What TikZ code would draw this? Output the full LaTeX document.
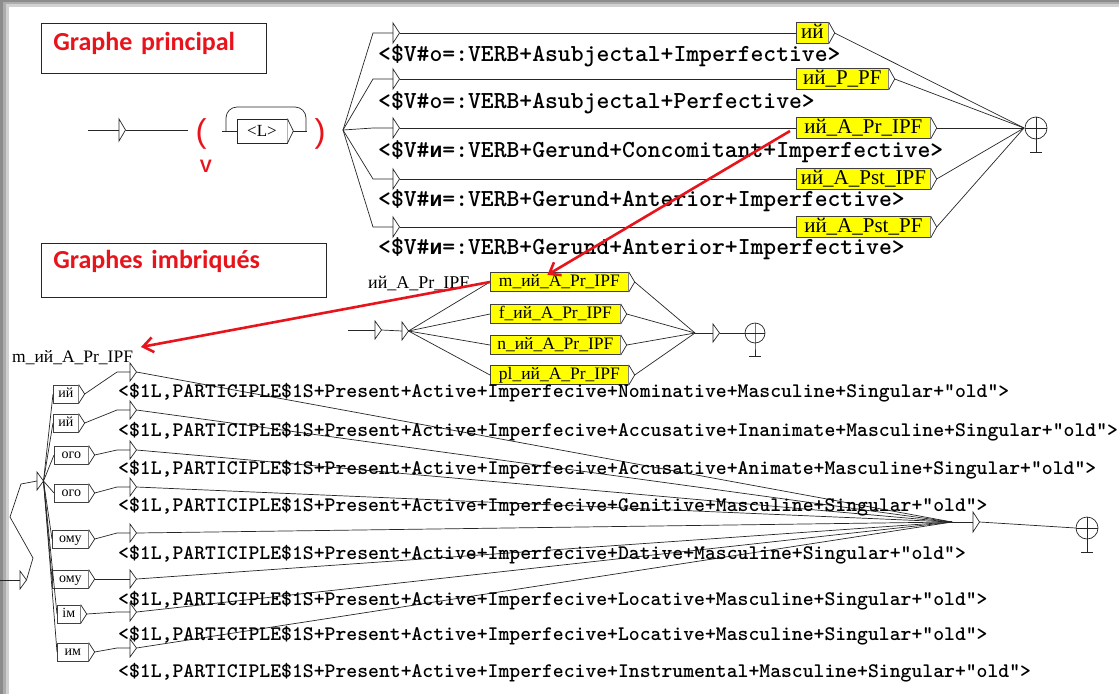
\documentclass[tikz,border=0pt]{standalone}
\usepackage{fontspec}
\setmainfont{Liberation Serif}
\newfontfamily\monof{Liberation Mono}
\newfontfamily\calib{Carlito}
\newfontfamily\sansf{Liberation Sans}
\usetikzlibrary{arrows.meta,calc}
\definecolor{tred}{RGB}{232,20,28}
\definecolor{ubyel}{RGB}{255,255,0}
\newcommand\boxtri[1]{\draw[ln,fill=white] (#1.north east) -- ($(#1.east)+(6,0)$) coordinate (#1o) -- (#1.south east);}
\newcommand\finalmark[1]{\draw[ln] (#1.north) -- (#1.south) -- ++(0,13); \draw[ln] (#1.west) -- (#1.east); \draw[ln] ($(#1.south)+(-6,13)$) -- ++(12,0);}
\newcommand\bpre{<\$1L,PARTICIPLE\$1S+Present+Active+Imperfecive+}
\newcommand\cyri{{\monof\bfseries\fontsize{21.4}{22}\selectfont и}}
\tikzset{
  ln/.style={draw=black!85,line width=0.7pt},
  pics/etri/.style={code={\coordinate (-i) at (0,0); \coordinate (-o) at (6.5,0);
     \draw[ln,fill=white] (0,-#1) -- (0,#1) -- (6.5,0) -- cycle;}},
  pics/etri/.default=10,
  ybox/.style={draw=black!75,line width=0.7pt,fill=ubyel,inner sep=0pt,anchor=west,
     font=\fontsize{21}{21}\selectfont,text height=14pt,text depth=4pt},
  myel/.style={ybox,font=\fontsize{17.5}{18}\selectfont,text height=12.5pt,text depth=4pt},
  sbox/.style={draw=black!75,line width=0.7pt,fill=white,inner sep=0pt,anchor=west,
     font=\fontsize{14}{14}\selectfont,text height=9pt,text depth=3pt,minimum height=18pt},
  wbox/.style={draw=black!85,line width=0.7pt,fill=white,inner sep=0pt,
     font=\fontsize{17}{17}\selectfont},
  final/.style={circle,draw=black!85,line width=0.7pt,inner sep=0pt,minimum size=#1},
  final/.default=22pt,
  toptxt/.style={anchor=base west,inner sep=0pt,font=\ttfamily\bfseries\fontsize{24.46}{25}\selectfont},
  bottxt/.style={anchor=base west,inner sep=0pt,font=\ttfamily\bfseries\fontsize{20.7}{21}\selectfont},
  glab/.style={anchor=base west,inner sep=0pt,font=\fontsize{17.5}{18}\selectfont},
  titlebox/.style={draw=black!85,line width=0.8pt,anchor=north west,inner xsep=12pt,inner ysep=0pt,
     align=left,text=tred,font=\calib\bfseries\fontsize{26}{26}\selectfont},
  redarrow/.style={draw=tred,line width=2.6pt,-{Straight Barb[length=10pt,width=15pt]}},
  paren/.style={text=tred,inner sep=0pt,font=\sansf\fontsize{33}{33}\selectfont}
}
\begin{document}
\begin{tikzpicture}[x=1pt,y=-1pt]
\useasboundingbox (0,0) rectangle (1119,694);
\fill[black!45] (0,0) rectangle (1119,694);
\fill[black!32] (3,2) rectangle (1119,694);
\fill[black!18] (6,4) rectangle (1119,694);
\fill[white] (9,7) rectangle (1119,694);

% ---------- titles
\node[titlebox,text width=201pt,text height=27pt,text depth=23pt] (gp) at (41,23) {Graphe principal};
\node[titlebox,text width=261pt,text height=25pt,text depth=29pt] (gi) at (41,243) {Graphes imbriqués};

% ---------- main graph
\coordinate (s0) at (88,130);
\pic (s1) at (119,130) {etri=11};
\draw[ln] (s0) -- (s1-i);
\coordinate (s2) at (188,130);
\draw[ln] (s1-o) -- (s2);
\node[paren] (lp) at (201,134) {(};
\node[text=tred,inner sep=0pt,font=\sansf\bfseries\fontsize{18}{18}\selectfont] (vv) at (206,166) {V};
\node[wbox,minimum width=50pt,minimum height=24pt] (L) at (262,131) {<L>};
\boxtri{L}
\coordinate (Lin) at (222,131);
\coordinate (Lout) at (307,131);
\draw[ln] (Lin) -- (L.west);
\draw[ln] (Lo) -- (Lout);
\draw[ln,rounded corners=11pt] (226,131) -- (226,107) -- (306,107) -- (306,131);
\node[paren] (rp) at (320,134) {)};
\coordinate (br) at (343,130);

\node[final] (F) at (1036,128) {};
\coordinate (fin) at (1024,128);
\finalmark{F}

\foreach \i/\y/\w/\lab in {1/33/32/ий, 2/79/92/ий\_P\_PF, 3/128/134/ий\_A\_Pr\_IPF, 4/179/134/ий\_A\_Pst\_IPF, 5/227/134/ий\_A\_Pst\_PF}{
  \pic (e\i) at (393,\y) {etri=10};
  \draw[ln] (br) -- (373,\y) -- (e\i-i);
  \node[ybox,minimum width=\w pt,minimum height=21pt] (y\i) at (796,\y) {\lab};
  \boxtri{y\i}
  \draw[ln] (e\i-o) -- (y\i.west);
  \draw[ln] (y\i o) -- (fin);
}
\node[toptxt] (t1) at (378,61) {<\$V\#o=:VERB+Asubjectal+Imperfective>};
\node[toptxt] (t2) at (378,108) {<\$V\#o=:VERB+Asubjectal+Perfective>};
\node[toptxt] (t3) at (378,157) {<\$V\#\cyri=:VERB+Gerund+Concomitant+Imperfective>};
\node[toptxt] (t4) at (378,206) {<\$V\#\cyri=:VERB+Gerund+Anterior+Imperfective>};
\node[toptxt] (t5) at (378,254) {<\$V\#\cyri=:VERB+Gerund+Anterior+Imperfective>};

% ---------- nested graph ий_A_Pr_IPF
\node[glab,font=\fontsize{18}{18}\selectfont] (mlab) at (368,288) {ий\_A\_Pr\_IPF};
\coordinate (m0) at (348,330);
\pic (mi) at (375,330) {etri=9};
\draw[ln] (m0) -- (mi-i);
\pic (me) at (402,331) {etri=9};
\draw[ln] (mi-o) -- (me-i);
\coordinate (mc) at (695,333);
\foreach \i/\y/\w/\lab in {1/282/138/m\_ий\_A\_Pr\_IPF, 2/314/130/f\_ий\_A\_Pr\_IPF, 3/345/130/n\_ий\_A\_Pr\_IPF, 4/375/138/pl\_ий\_A\_Pr\_IPF}{
  \node[myel,minimum width=\w pt,minimum height=19.5pt] (mb\i) at (490,\y) {\lab};
  \boxtri{mb\i}
  \draw[ln] (me-o) -- (mb\i.west);
  \draw[ln] (mb\i o) -- (mc);
}
\pic (mf) at (713,333) {etri=9};
\draw[ln] (mc) -- (mf-i);
\node[final=20pt] (MF) at (755,333) {};
\draw[ln] (mf-o) -- (MF.west);
\finalmark{MF}

% ---------- nested graph m_ий_A_Pr_IPF
\node[glab] (blab) at (12,362) {m\_ий\_A\_Pr\_IPF};
\coordinate (b0) at (0,580);
\pic (bi) at (20,580) {etri=9};
\draw[ln] (b0) -- (bi-i);
\pic (be) at (37,481) {etri=9};
\draw[ln] (bi-o) -- (33,558) -- (10,517) -- (21,484) -- (be-i);
\coordinate (bc) at (952,522);
\foreach \i/\y/\x/\w/\lab/\r in {1/394/53/25/ий/372, 2/423/53/25/ий/410, 3/455/54/34/ого/450, 4/493/54/34/ого/487, 5/539/52/36/ому/533, 6/579/52/36/ому/579, 7/614/57/23/ім/612, 8/652/57/31/им/648}{
  \node[sbox,minimum width=\w pt] (sb\i) at (\x,\y) {\lab};
  \boxtri{sb\i}
  \draw[ln] (be-o) -- (sb\i.west);
  \pic (r\i) at (130,\r) {etri=9};
  \draw[ln] (sb\i o) -- (117,\r) -- (r\i-i);
  \draw[ln] (r\i-o) -- (bc);
}
\node[bottxt] (u1) at (118,397) {\bpre Nominative+Masculine+Singular+"old">};
\node[bottxt] (u2) at (118,436) {\bpre Accusative+Inanimate+Masculine+Singular+"old">};
\node[bottxt] (u3) at (118,474) {\bpre Accusative+Animate+Masculine+Singular+"old">};
\node[bottxt] (u4) at (118,511) {\bpre Genitive+Masculine+Singular+"old">};
\node[bottxt] (u5) at (118,559) {\bpre Dative+Masculine+Singular+"old">};
\node[bottxt] (u6) at (118,605) {\bpre Locative+Masculine+Singular+"old">};
\node[bottxt] (u7) at (118,640) {\bpre Locative+Masculine+Singular+"old">};
\node[bottxt] (u8) at (118,677) {\bpre Instrumental+Masculine+Singular+"old">};
\pic (bf) at (973,522) {etri=10};
\draw[ln] (bc) -- (bf-i);
\node[final] (BF) at (1087,528) {};
\draw[ln] (bf-o) -- (BF.west);
\finalmark{BF}

% ---------- red arrows
\coordinate (ra1s) at ($(y3.west)+(-6,3)$);
\coordinate (ra1e) at ($(mb1.north)+(-12,3)$);
\draw[redarrow] (ra1s) -- (ra1e);
\coordinate (ra2e) at (141,347);
\draw[redarrow] (mb1.west) -- (ra2e);
\end{tikzpicture}
\end{document}
